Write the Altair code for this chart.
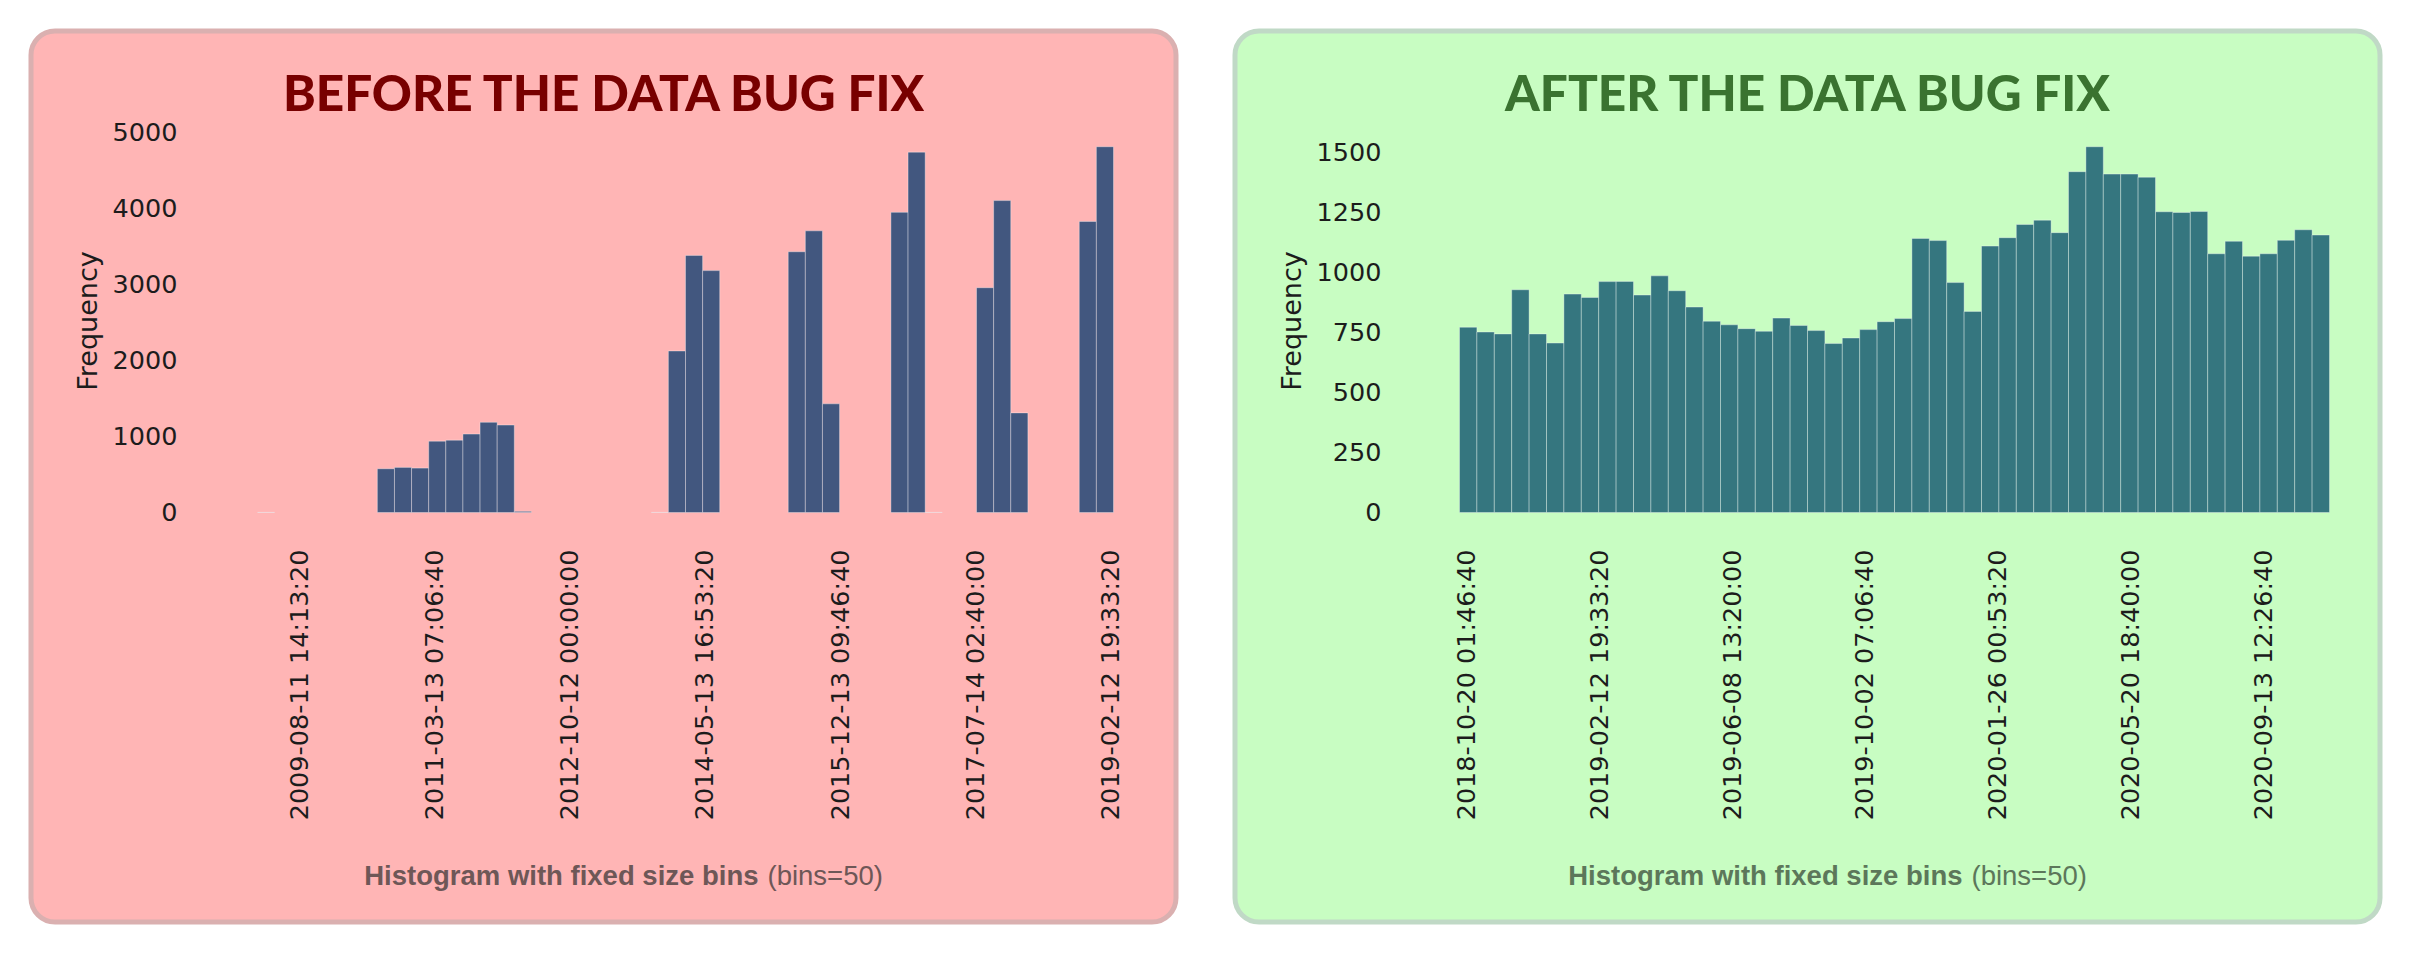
import altair as alt
import pandas as pd

# ---------------- data ----------------
LEFT_TITLE = "BEFORE THE DATA BUG FIX"
RIGHT_TITLE = "AFTER THE DATA BUG FIX"
SUB_BOLD = "Histogram with fixed size bins"
SUB_REG = "(bins=50)"
Y_TITLE = "Frequency"

# epoch seconds
LEFT_BIN_START = 1234.46e6
LEFT_BIN_WIDTH = 6.3337e6
LEFT_DOMAIN = [1233.72e6, 1555.59e6]
LEFT_COUNTS = [
    2, 0, 0, 0, 0, 0, 0, 575, 593, 584,
    938, 951, 1031, 1186, 1150, 15, 0, 0, 0, 0,
    0, 0, 0, 2, 2124, 3381, 3181, 0, 0, 0,
    0, 3429, 3704, 1429, 0, 0, 0, 3947, 4739, 2,
    0, 0, 2956, 4102, 1310, 0, 0, 0, 3827, 4810,
]
LEFT_X_TICKS = [1250e6, 1300e6, 1350e6, 1400e6, 1450e6, 1500e6, 1550e6]
LEFT_Y_TICKS = [0, 1000, 2000, 3000, 4000, 5000]
LEFT_Y_MAX = 5050

RIGHT_BIN_START = 1539.473e6
RIGHT_BIN_WIDTH = 1.31024e6
RIGHT_DOMAIN = [1539.473e6, 1604.985e6]
RIGHT_COUNTS = [
    772, 752, 744, 928, 744, 706, 910, 896, 962, 963,
    906, 986, 924, 856, 797, 782, 766, 755, 810, 779,
    758, 704, 727, 762, 795, 808, 1142, 1133, 958, 838,
    1110, 1145, 1200, 1218, 1166, 1420, 1524, 1410, 1410, 1397,
    1253, 1250, 1254, 1078, 1130, 1068, 1078, 1134, 1178, 1156,
]
RIGHT_X_TICKS = [1540e6, 1550e6, 1560e6, 1570e6, 1580e6, 1590e6, 1600e6]
RIGHT_Y_TICKS = [0, 250, 500, 750, 1000, 1250, 1500]
RIGHT_Y_MAX = 1600

# ---------------- layout / style ----------------
VIEW_W, VIEW_H = 1145, 891
PLOT_X0, PLOT_X1 = 224.5, 1094.5
PLOT_Y_BOTTOM, PLOT_Y_TOP = 481.5, 97.5
LABEL_FONT = "DejaVu Sans"
LABEL_SIZE = 25.5
INK = "#1c1c1c"


def make_df(counts, start, width):
    rows = []
    for i, c in enumerate(counts):
        if c > 0:
            s = start + i * width
            rows.append({"start": s, "end": s + width, "count": c})
    return pd.DataFrame(rows)


def panel(counts, start, width, domain, xticks, yticks, ymax, title,
          bar_color, fill, border, title_color, sub_color):
    df = make_df(counts, start, width)
    x_axis = alt.Axis(
        values=xticks,
        labelExpr="utcFormat(datum.value * 1000, '%Y-%m-%d %H:%M:%S')",
        labelAngle=270, labelPadding=36.5, ticks=False, tickSize=0,
        domain=False, grid=False, labelOverlap=False, labelFlush=False,
        labelLimit=0,
        labelFont=LABEL_FONT, labelFontSize=LABEL_SIZE, labelColor=INK,
        title=None, offset=-(VIEW_H - PLOT_Y_BOTTOM),
    )
    y_axis = alt.Axis(
        values=yticks, format="d", offset=-146, labelPadding=0,
        ticks=False, tickSize=0, domain=False, grid=False,
        labelFont=LABEL_FONT, labelFontSize=LABEL_SIZE, labelColor=INK,
        title=Y_TITLE, titleFont=LABEL_FONT, titleFontSize=27,
        titleFontWeight="normal", titleColor=INK, titleAngle=270,
        titleBaseline="middle", titleX=-88.5,
    )
    bars = alt.Chart(df).mark_rect(
        color=bar_color, stroke="white", strokeOpacity=0.35, strokeWidth=1
    ).encode(
        x=alt.X("start:Q", scale=alt.Scale(domain=domain, range=[PLOT_X0, PLOT_X1],
                                           nice=False, zero=False), axis=x_axis),
        x2="end:Q",
        y=alt.Y("count:Q", scale=alt.Scale(domain=[0, ymax],
                                           range=[PLOT_Y_BOTTOM, PLOT_Y_TOP], nice=False),
                axis=y_axis),
        y2=alt.datum(0),
    )
    head = alt.Chart(alt.Data(values=[{"t": title}])).mark_text(
        font="Lato", fontSize=49.5, fontWeight=900, color=title_color,
        align="center", baseline="alphabetic",
    ).encode(text="t:N", x=alt.value(VIEW_W / 2), y=alt.value(80))
    sub_b = alt.Chart(alt.Data(values=[{"t": SUB_BOLD}])).mark_text(
        font="Liberation Sans", fontSize=27.5, fontWeight="bold", color=sub_color,
        align="right", baseline="alphabetic",
    ).encode(text="t:N", x=alt.value(727.5), y=alt.value(853.5))
    sub_r = alt.Chart(alt.Data(values=[{"t": SUB_REG}])).mark_text(
        font="Liberation Sans", fontSize=27.5, fontWeight="normal", color=sub_color,
        align="left", baseline="alphabetic",
    ).encode(text="t:N", x=alt.value(736.5), y=alt.value(853.5))
    return alt.layer(bars, head, sub_b, sub_r).properties(
        width=VIEW_W, height=VIEW_H,
        view=alt.ViewBackground(fill=fill, stroke=border, strokeWidth=5, cornerRadius=24),
    )


left = panel(LEFT_COUNTS, LEFT_BIN_START, LEFT_BIN_WIDTH, LEFT_DOMAIN, LEFT_X_TICKS,
             LEFT_Y_TICKS, LEFT_Y_MAX, LEFT_TITLE,
             "#42577f", "#ffb5b5", "#dab0b0", "#780000", "#6e5757")
right = panel(RIGHT_COUNTS, RIGHT_BIN_START, RIGHT_BIN_WIDTH, RIGHT_DOMAIN, RIGHT_X_TICKS,
              RIGHT_Y_TICKS, RIGHT_Y_MAX, RIGHT_TITLE,
              "#35767f", "#c8fdc2", "#c0d9c6", "#3a7330", "#5c775a")

chart = alt.hconcat(left, right, spacing=53).properties(
    padding={"left": 20, "top": 20, "right": 5, "bottom": 5},
    background="white",
)

chart.save("out.html", embed_options={"renderer": "svg", "actions": False})
